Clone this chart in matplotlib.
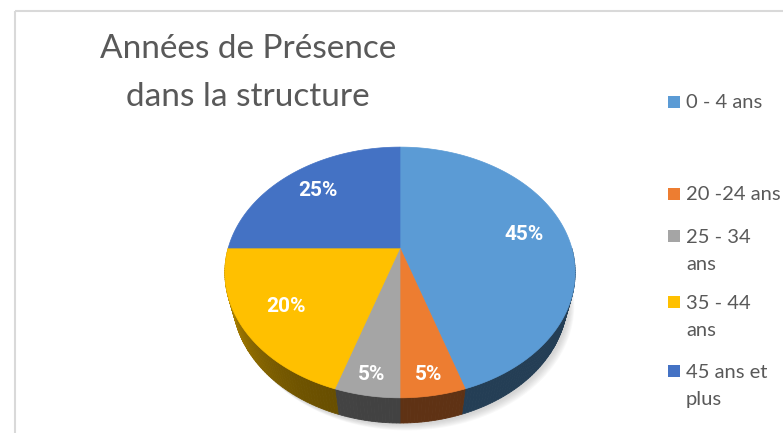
import numpy as np
import matplotlib
matplotlib.use("Agg")
import matplotlib.pyplot as plt
from matplotlib.patches import Polygon, Rectangle
from matplotlib.colors import to_rgb

categories = ['0 - 4 ans', '20 -24 ans', '25 - 34\nans', '35 - 44\nans', '45 ans et\nplus']
values = [45, 5, 5, 20, 25]
colors = ['#5B9BD5', '#ED7D31', '#A5A5A5', '#FFC000', '#4472C4']
title = 'Années de Présence\ndans la structure'

plt.rcParams['font.family'] = ['Lato', 'DejaVu Sans']

# 3D pie projection (perspective, tilted disc), output in pixel coords
cx, cy = 400, 248
f, L = 627.0, 3.65
s, c = 0.702, 0.712
h = 0.229


def project(theta, r=1.0, y3=0.0):
    X = r * np.sin(theta)
    D = r * np.cos(theta)
    vert = y3 * c + D * s
    depth = L + D * c - y3 * s
    return cx + f * X / depth, cy - f * vert / depth


def shade(col, theta):
    k = 0.40 + 0.30 * max(0.0, -np.sin(theta)) ** 3
    return tuple(np.array(to_rgb(col)) * k)


fig = plt.figure(figsize=(7.83, 4.33), dpi=100)
ax = fig.add_axes([0, 0, 1, 1])
ax.set_xlim(0, 783)
ax.set_ylim(433, 0)
ax.axis('off')

# chart border
ax.add_patch(Rectangle((15, 11), 800, 450, fill=False, edgecolor='#D9D9D9', lw=1.5))

total = float(sum(values))
bounds = np.cumsum([0] + values) / total * 2 * np.pi

# soft shadow under the pie
t = np.linspace(0, 2 * np.pi, 200)
bx, by = project(t, 1.0, -h)
for i in range(7):
    ax.add_patch(Polygon(np.column_stack([bx + 2 + i * 0.8, by + 2 + i * 0.9]),
                         closed=True, facecolor='#808080', edgecolor='none',
                         alpha=0.05, zorder=1))

# side walls (front half only)
for k, col in enumerate(colors):
    a0 = max(bounds[k], np.pi / 2)
    a1 = min(bounds[k + 1], 3 * np.pi / 2)
    if a1 <= a0:
        continue
    n = max(2, int(np.degrees(a1 - a0)) + 1)
    tt = np.linspace(a0, a1, n)
    for j in range(n - 1):
        seg = np.array([tt[j], tt[j + 1]])
        x1, y1 = project(seg, 1.0, 0.0)
        x2, y2 = project(seg[::-1], 1.0, -h)
        pc = shade(col, seg.mean())
        ax.add_patch(Polygon(np.column_stack([np.r_[x1, x2], np.r_[y1, y2]]),
                             closed=True, facecolor=pc, edgecolor=pc, lw=0.6, zorder=2))

# top faces
for k, col in enumerate(colors):
    tt = np.linspace(bounds[k], bounds[k + 1], 120)
    ex, ey = project(tt, 1.0, 0.0)
    ax.add_patch(Polygon(np.column_stack([np.r_[cx, ex], np.r_[cy, ey]]),
                         closed=True, facecolor=col, edgecolor=col, lw=0.5, zorder=3))

# data labels
for k, v in enumerate(values):
    mid = (bounds[k] + bounds[k + 1]) / 2
    rr = 0.75 if v / total > 0.1 else 0.88
    lx, ly = project(mid, rr, 0.0)
    ax.text(lx, ly, f'{v}%', color='white', fontsize=15, fontweight='bold',
            family=['Roboto', 'DejaVu Sans'], ha='center', va='center', zorder=5)

# title
ax.text(248, 73, title, color='#595959', fontsize=24, ha='center', va='center',
        linespacing=1.75)

# legend
legend_y = [102, 194, 251, 317, 386]
for k, lab in enumerate(categories):
    y0 = legend_y[k] - 6 if '\n' not in lab else legend_y[k] - 21
    ax.add_patch(Rectangle((668, y0), 12, 12, facecolor=colors[k], edgecolor='none'))
    ax.text(686, legend_y[k], lab, color='#595959', fontsize=14.5, ha='left',
            va='center', linespacing=1.75)

fig.savefig('out.png', dpi=100)
